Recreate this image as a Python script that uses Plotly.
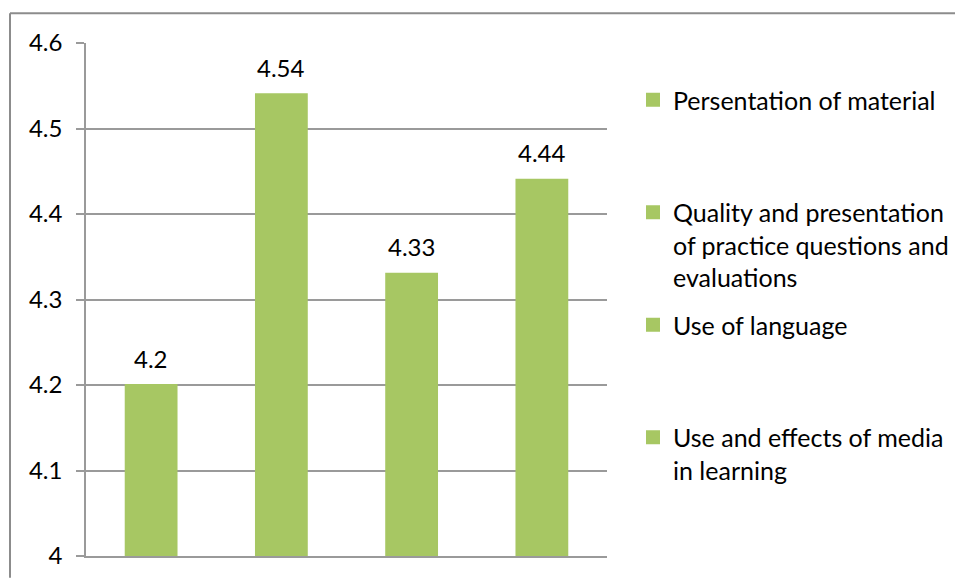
import plotly.graph_objects as go

# Evaluation scores per aspect of the learning material
categories = [
    "Persentation of material",
    "Quality and presentation of practice questions and evaluations",
    "Use of language",
    "Use and effects of media in learning",
]
legend_lines = [
    ["Persentation of material"],
    ["Quality and presentation", "of practice questions and", "evaluations"],
    ["Use of language"],
    ["Use and effects of media", "in learning"],
]
scores = [4.2, 4.54, 4.33, 4.44]
y_ticks = [4.0, 4.1, 4.2, 4.3, 4.4, 4.5, 4.6]

BAR_GREEN = "#A7C763"
GRID_GRAY = "#9A9A9A"
FONT = "Lato"

W, H = 955, 581
ML, MR, MT, MB = 86, 348, 43, 22
PW, PH = W - ML - MR, H - MT - MB


def px_x(px):
    return (px - ML) / PW


def px_y(py):
    return (H - MB - py) / PH


fig = go.Figure()

# one trace per aspect so each gets its own legend entry;
# every legend label is padded to three lines so entries are evenly spaced
for i, (cat, val, lines) in enumerate(zip(categories, scores, legend_lines)):
    padded = lines + [" "] * (3 - len(lines))
    fig.add_trace(go.Bar(
        x=[cat], y=[val],
        name="<br>".join(padded),
        legendgroup=f"g{i}",
        width=0.39,
        marker=dict(color=BAR_GREEN, line=dict(color=BAR_GREEN, width=2)),
        hoverinfo="skip",
    ))

# value labels above each bar
for cat, val in zip(categories, scores):
    fig.add_annotation(
        x=cat, y=val, text=f"{val:g}", showarrow=False,
        yanchor="middle", yshift=27,
        font=dict(family=FONT, size=24, color="#000000"),
    )

# chart frame (top and left edges)
fig.add_shape(type="line", xref="paper", yref="paper",
              x0=px_x(10), x1=px_x(W), y0=px_y(13), y1=px_y(13),
              line=dict(color="#8C8C8C", width=2), layer="below")
fig.add_shape(type="line", xref="paper", yref="paper",
              x0=px_x(10), x1=px_x(10), y0=px_y(13), y1=px_y(H),
              line=dict(color="#8C8C8C", width=2), layer="below")

fig.update_layout(
    width=W, height=H,
    margin=dict(l=ML, r=MR, t=MT, b=MB),
    paper_bgcolor="white", plot_bgcolor="white",
    barmode="overlay",
    font=dict(family=FONT, size=24, color="#000000"),
    showlegend=True,
    legend=dict(
        xref="container", yref="container",
        x=633 / W, y=1 - 77 / H, xanchor="left", yanchor="top",
        traceorder="grouped", tracegroupgap=12, valign="top",
        maxheight=1.0,
        font=dict(family=FONT, size=25, color="#000000"),
        bgcolor="rgba(0,0,0,0)",
    ),
    xaxis=dict(
        showticklabels=False, ticks="", showgrid=False,
        showline=True, linecolor=GRID_GRAY, linewidth=1.5,
        categoryorder="array", categoryarray=categories,
    ),
    yaxis=dict(
        range=[4, 4.6], tickvals=y_ticks,
        showgrid=True, gridcolor=GRID_GRAY, gridwidth=1.5,
        showline=True, linecolor=GRID_GRAY, linewidth=1.5,
        ticks="outside", ticklen=8, tickcolor=GRID_GRAY, tickwidth=1.5,
        ticklabelstandoff=9, zeroline=False,
        tickfont=dict(family=FONT, size=24, color="#000000"),
    ),
)

fig.write_html("out.html")
